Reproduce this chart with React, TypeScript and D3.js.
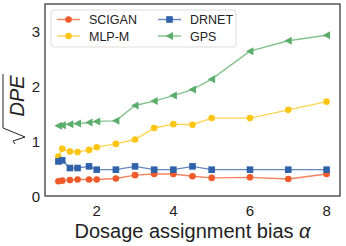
import React, { useEffect, useRef } from "react";
import * as d3 from "d3";

const alphas = [1, 1.1, 1.3, 1.5, 1.8, 2, 2.5, 3, 3.5, 4, 4.5, 5, 6, 7, 8];
const scigan = [0.27, 0.28, 0.29, 0.3, 0.3, 0.3, 0.32, 0.38, 0.4, 0.4, 0.36, 0.33, 0.34, 0.31, 0.4];
const drnet = [0.63, 0.65, 0.51, 0.51, 0.54, 0.48, 0.48, 0.54, 0.48, 0.48, 0.54, 0.48, 0.48, 0.48, 0.48];
const mlpm = [0.72, 0.86, 0.81, 0.8, 0.84, 0.89, 0.95, 1.03, 1.24, 1.31, 1.3, 1.42, 1.42, 1.57, 1.72];
const gps = [1.28, 1.29, 1.31, 1.32, 1.34, 1.36, 1.37, 1.65, 1.73, 1.83, 1.94, 2.13, 2.64, 2.83, 2.93];
const xTicks = [2, 4, 6, 8];
const yTicks = [0, 1, 2, 3];

const series = [
  { name: "SCIGAN", values: scigan, color: "#f05a2a", marker: "circle" },
  { name: "MLP-M", values: mlpm, color: "#ffc514", marker: "circle" },
  { name: "DRNET", values: drnet, color: "#2f62aa", marker: "square" },
  { name: "GPS", values: gps, color: "#5aad6a", marker: "triangle" },
];

const FONT = "'Liberation Sans', Arial, sans-serif";

function drawMarker(g: any, kind: string, x: number, y: number, color: string) {
  if (kind === "circle") {
    g.append("circle").attr("cx", x).attr("cy", y).attr("r", 3.3).attr("fill", color);
  } else if (kind === "square") {
    g.append("rect").attr("x", x - 3.3).attr("y", y - 3.3).attr("width", 6.6).attr("height", 6.6).attr("fill", color);
  } else {
    g.append("path")
      .attr("d", `M${x - 4},${y} L${x + 3.5},${y - 4} L${x + 3.5},${y + 4} Z`)
      .attr("fill", color);
  }
}

export default function App() {
  const ref = useRef<SVGSVGElement>(null);

  useEffect(() => {
    const svg = d3.select(ref.current);
    svg.selectAll("*").remove();

    const left = 45, right = 340, top = 4, bottom = 196;
    const x = d3.scaleLinear().domain([0.65, 8.35]).range([left, right]);
    const y = d3.scaleLinear().domain([0, 3.5]).range([bottom, top]);

    // data
    series.forEach((s) => {
      const line = d3
        .line<number>()
        .x((d, i) => x(alphas[i]))
        .y((d) => y(d));
      svg
        .append("path")
        .attr("d", line(s.values))
        .attr("fill", "none")
        .attr("stroke", s.color)
        .attr("stroke-opacity", 0.75)
        .attr("stroke-width", 1.4);
      const g = svg.append("g");
      s.values.forEach((v, i) => drawMarker(g, s.marker, x(alphas[i]), y(v), s.color));
    });

    // frame
    svg
      .append("rect")
      .attr("x", left)
      .attr("y", top)
      .attr("width", right - left)
      .attr("height", bottom - top)
      .attr("fill", "none")
      .attr("stroke", "#333")
      .attr("stroke-width", 1.25);

    // tick labels
    svg
      .selectAll(".xt")
      .data(xTicks)
      .enter()
      .append("text")
      .attr("x", (d) => x(d))
      .attr("y", 216)
      .attr("text-anchor", "middle")
      .attr("font-family", FONT)
      .attr("font-size", 15)
      .attr("fill", "#222")
      .text((d) => d);
    svg
      .selectAll(".yt")
      .data(yTicks)
      .enter()
      .append("text")
      .attr("x", 40)
      .attr("y", (d) => y(d) + 5.5)
      .attr("text-anchor", "end")
      .attr("font-family", FONT)
      .attr("font-size", 15)
      .attr("fill", "#222")
      .text((d) => d);

    // x label
    const xl = svg
      .append("text")
      .attr("x", (left + right) / 2)
      .attr("y", 238)
      .attr("text-anchor", "middle")
      .attr("font-family", FONT)
      .attr("font-size", 20)
      .attr("fill", "#222");
    xl.append("tspan").text("Dosage assignment bias ");
    xl.append("tspan").attr("font-style", "italic").text("α");

    // y label: sqrt(DPE)
    const yl = svg.append("g").attr("transform", "translate(24,104) rotate(-90)");
    yl.append("text")
      .attr("x", 8)
      .attr("y", 0)
      .attr("text-anchor", "middle")
      .attr("font-family", FONT)
      .attr("font-size", 20)
      .attr("font-style", "italic")
      .attr("fill", "#222")
      .text("DPE");
    yl.append("path")
      .attr("d", "M-40,-9 L-37,-11 L-33,1 L-24,-21 L30,-21")
      .attr("fill", "none")
      .attr("stroke", "#222")
      .attr("stroke-width", 1);

    // legend
    const lg = svg.append("g");
    lg.append("rect")
      .attr("x", 51)
      .attr("y", 10)
      .attr("width", 185)
      .attr("height", 37)
      .attr("rx", 3)
      .attr("fill", "white")
      .attr("fill-opacity", 0.8)
      .attr("stroke", "#ddd");
    series.forEach((s, i) => {
      const col = i < 2 ? 0 : 1;
      const row = i % 2;
      const lx = col === 0 ? 57 : 158;
      const ly = 19.5 + row * 16.5;
      lg.append("line")
        .attr("x1", lx)
        .attr("x2", lx + 23)
        .attr("y1", ly)
        .attr("y2", ly)
        .attr("stroke", s.color)
        .attr("stroke-opacity", 0.75)
        .attr("stroke-width", 1.4);
      drawMarker(lg, s.marker, lx + 11.5, ly, s.color);
      lg.append("text")
        .attr("x", lx + 32)
        .attr("y", ly + 4.5)
        .attr("font-family", FONT)
        .attr("font-size", 12.5)
        .attr("fill", "#222")
        .text(s.name);
    });
  }, []);

  return (
    <svg
      ref={ref}
      width={346}
      height={246}
      style={{ position: "absolute", left: 0, top: 0, background: "white" }}
    />
  );
}
